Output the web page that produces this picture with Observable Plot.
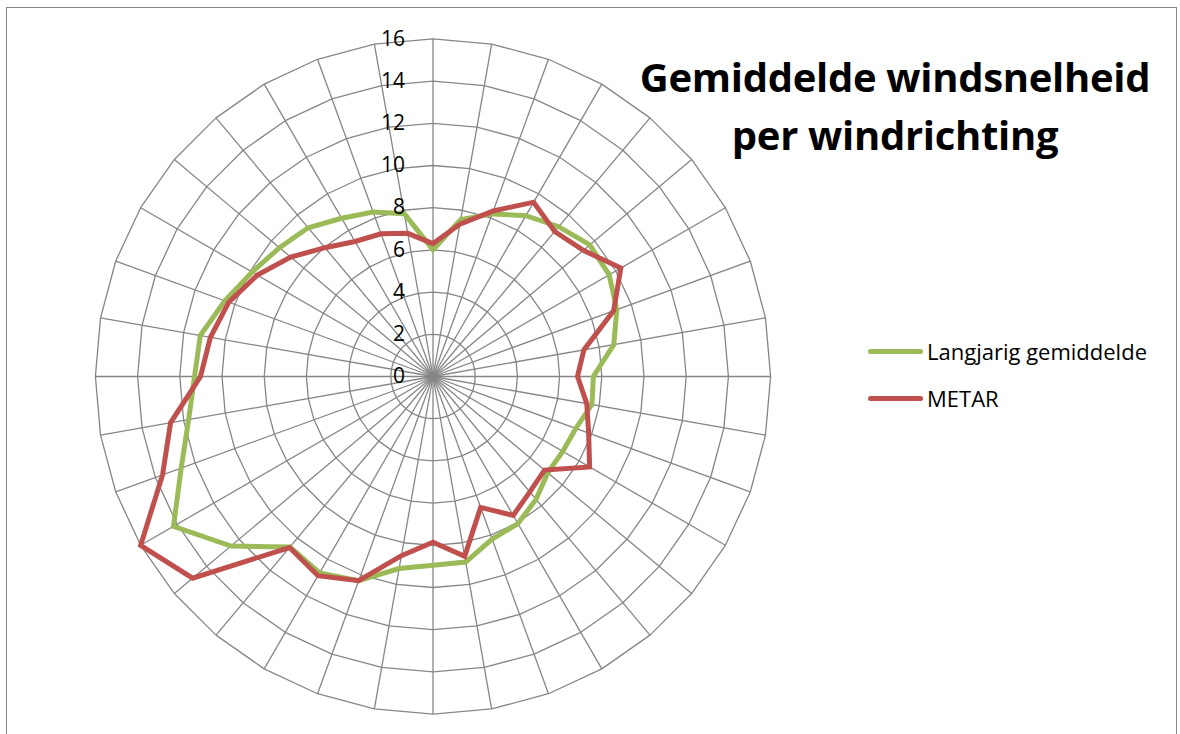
<!DOCTYPE html>
<html>
<head>
<meta charset="utf-8">
<script src="https://cdn.jsdelivr.net/npm/d3@7"></script>
<script src="https://cdn.jsdelivr.net/npm/@observablehq/plot@0.6"></script>
<style>
  html, body { margin: 0; padding: 0; background: #fff; }
  #wrap { position: relative; width: 1180px; height: 734px; overflow: hidden; font-family: "Open Sans", sans-serif; }
  #border { position: absolute; left: 6px; top: 7px; width: 1171px; height: 740px; border: 1px solid #868686; box-sizing: border-box; }
  #title { position: absolute; left: 600px; width: 590px; top: 48px; text-align: center; font-weight: bold; font-size: 40px; line-height: 58px; color: #000; letter-spacing: -0.3px; }
  .leg { position: absolute; left: 868px; font-size: 22px; color: #000; display: flex; align-items: center; }
  .leg .sw { width: 55px; height: 5px; border-radius: 3px; margin-right: 4px; }
</style>
</head>
<body>
<div id="wrap">
  <div id="chart"></div>
  <div id="border"></div>
  <div id="title">Gemiddelde windsnelheid<br>per windrichting</div>
  <div class="leg" id="leg1" style="top:336px"><div class="sw" style="background:#9BBB59"></div><span>Langjarig gemiddelde</span></div>
  <div class="leg" id="leg2" style="top:383px"><div class="sw" style="background:#C0504D"></div><span>METAR</span></div>
</div>
<script>
// Wind directions (degrees, clockwise from north)
const directions = d3.range(0, 360, 10);
// Langjarig gemiddelde (long-term average)
const langjarig = [6.0, 7.55, 8.2, 8.8, 9.27, 9.7, 9.64, 9.27, 8.7, 7.6, 7.65, 7.2,
                   7.1, 7.1, 7.6, 8.05, 8.2, 8.93, 8.95, 9.24, 10.3, 10.75, 10.55, 12.5,
                   14.2, 12.7, 11.76, 11.3, 11.2, 10.5, 9.9, 9.5, 9.2, 8.66, 8.3, 7.83];
// METAR
const metar = [6.3, 7.33, 8.35, 9.54, 8.97, 9.3, 10.28, 9.11, 7.26, 6.85, 7.4, 7.85,
               8.57, 6.9, 7.14, 7.6, 6.6, 8.65, 7.85, 8.62, 10.3, 10.9, 10.58, 14.87,
               16.0, 13.64, 12.63, 11.02, 10.71, 10.3, 9.61, 8.8, 7.97, 7.39, 7.2, 6.89];
const ticks = [0, 2, 4, 6, 8, 10, 12, 14, 16];
const seriesNames = ["Langjarig gemiddelde", "METAR"];
const seriesColors = ["#9BBB59", "#C0504D"];

const rMax = 16;
const W = 1180, H = 734, cx = 432.5, cy = 376, unit = 21.1;
const rad = d => d * Math.PI / 180;
const px = (r, a) => r * Math.sin(rad(a));
const py = (r, a) => r * Math.cos(rad(a));

// closed polygon helper
function ring(values, name) {
  const pts = directions.map((a, i) => ({a, v: values[i], name}));
  pts.push({...pts[0]});
  return pts;
}

const rings = ticks.filter(t => t > 0).flatMap(t => ring(directions.map(() => t), "r" + t));
const spokes = directions.map(a => ({a}));
const series = [
  ...ring(langjarig, seriesNames[0]),
  ...ring(metar, seriesNames[1])
];

const chart = Plot.plot({
  width: W, height: H,
  margin: 0,
  x: {domain: [-cx / unit, (W - cx) / unit], axis: null},
  y: {domain: [-(H - cy) / unit, cy / unit], axis: null},
  color: {domain: seriesNames, range: seriesColors},
  style: {fontFamily: "'Open Sans', sans-serif"},
  marks: [
    Plot.line(rings, {x: d => px(d.v, d.a), y: d => py(d.v, d.a), z: "name", stroke: "#868686", strokeWidth: 1.3, curve: "linear"}),
    Plot.link(spokes, {x1: 0, y1: 0, x2: d => px(rMax, d.a), y2: d => py(rMax, d.a), stroke: "#868686", strokeWidth: 1.3}),
    Plot.line(series, {x: d => px(d.v, d.a), y: d => py(d.v, d.a), z: "name", stroke: "name", strokeWidth: 5, strokeLinejoin: "miter", strokeMiterlimit: 4}),
    Plot.text(ticks, {x: 0, y: d => d, text: d => String(d), textAnchor: "end", dx: -28, fontSize: 21, fill: "#000"})
  ]
});
document.getElementById("chart").appendChild(chart);
</script>
</body>
</html>
